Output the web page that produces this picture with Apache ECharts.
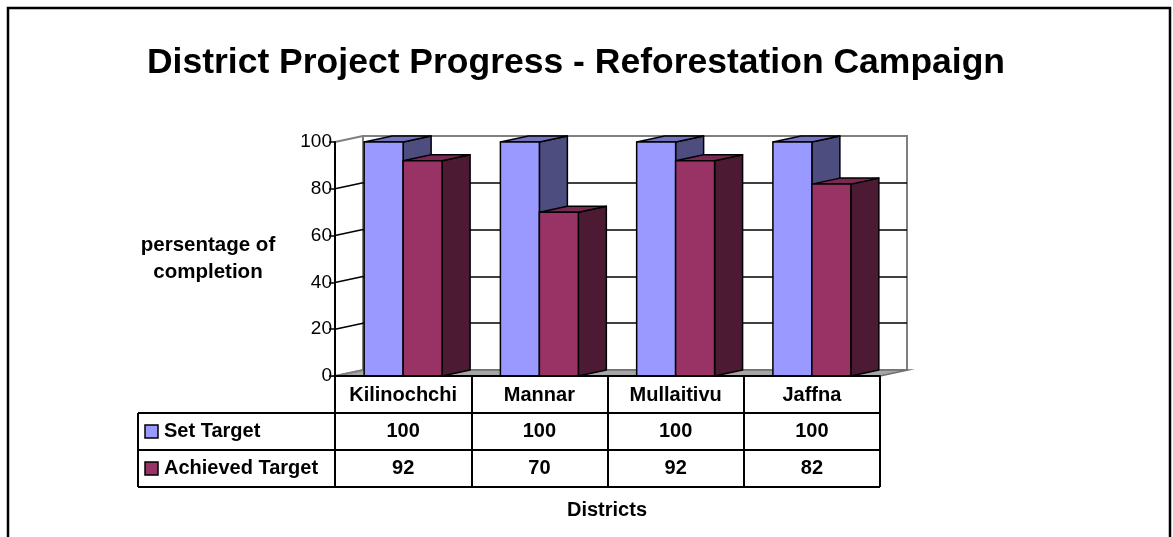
<!DOCTYPE html>
<html>
<head>
<meta charset="utf-8">
<title>District Project Progress</title>
<script src="https://cdn.jsdelivr.net/npm/echarts@6/dist/echarts.min.js"></script>
<style>
  html, body { margin: 0; padding: 0; background: #fff; }
  #chart { width: 1173px; height: 537px; }
</style>
</head>
<body>
<div id="chart"></div>
<script>
// data
const districts = ['Kilinochchi', 'Mannar', 'Mullaitivu', 'Jaffna'];
const seriesNames = ['Set Target', 'Achieved Target'];
const setTarget = [100, 100, 100, 100];
const achievedTarget = [92, 70, 92, 82];
const yTicks = [0, 20, 40, 60, 80, 100];

// layout / style
const FONT = 'Liberation Sans, Arial, sans-serif';
const DX = 28, DY = -6;            // 3d depth offset
const ROW_H = 37;                  // data table row height
const TABLE_TOP = 376;
const TABLE_LEFT = 138;
const colors = {
  set: { front: '#9999FF', top: '#7373BF', side: '#4D4D80' },
  ach: { front: '#993366', top: '#7A2952', side: '#4D1A33' }
};

const chart = echarts.init(document.getElementById('chart'));

function renderBars(params, api) {
  const i = api.value(0);
  const base = api.coord([i, 0]);
  const band = api.size([1, 0])[0];
  const w = band * 0.286;
  const styles = [colors.set, colors.ach];
  const children = [];
  [1, 2].forEach(function (dim, k) {
    const top = api.coord([i, api.value(dim)]);
    const x0 = base[0] - w + k * w, x1 = x0 + w;
    const y0 = base[1], y1 = top[1];
    const c = styles[k];
    const st = { stroke: '#000', lineWidth: 1.5, lineJoin: 'round' };
    children.push({
      type: 'polygon',
      shape: { points: [[x1, y1], [x1 + DX, y1 + DY], [x1 + DX, y0 + DY], [x1, y0]] },
      style: Object.assign({ fill: c.side }, st)
    });
    children.push({
      type: 'polygon',
      shape: { points: [[x0, y1], [x0 + DX, y1 + DY], [x1 + DX, y1 + DY], [x1, y1]] },
      style: Object.assign({ fill: c.top }, st)
    });
    children.push({
      type: 'rect',
      shape: { x: x0, y: y1, width: w, height: y0 - y1 },
      style: Object.assign({ fill: c.front }, st)
    });
  });
  return { type: 'group', children: children };
}

function renderWalls(params, api) {
  const cs = params.coordSys;
  const v = api.value(1);
  const p = api.coord([0, v]);
  const grey = v === yTicks[0] || v === yTicks[yTicks.length - 1];
  const children = [];
  if (v === yTicks[0]) {
    // floor slab
    children.push({
      type: 'polygon',
      shape: { points: [[cs.x, p[1]], [cs.x + DX, p[1] + DY], [cs.x + cs.width + DX, p[1] + DY], [cs.x + cs.width, p[1]]] },
      style: { fill: '#a6a6a6', stroke: '#707070', lineWidth: 1.5 }
    });
  }
  children.push({
    type: 'line',
    shape: { x1: cs.x, y1: p[1], x2: cs.x + DX, y2: p[1] + DY },
    style: { stroke: grey ? '#808080' : '#000', lineWidth: grey ? 2 : 1.5 }
  });
  return { type: 'group', children: children };
}

function renderTable(params, api) {
  const i = api.value(0);
  const x = api.coord([i, 0])[0];
  const rows = [api.value(1), api.value(2)];
  return {
    type: 'group',
    children: rows.map(function (val, r) {
      return {
        type: 'text',
        style: {
          text: String(val), x: x, y: TABLE_TOP + ROW_H * (r + 1.5),
          align: 'center', verticalAlign: 'middle',
          font: 'bold 20px ' + FONT, fill: '#000'
        }
      };
    })
  };
}

const rows = districts.map(function (d, i) { return [i, setTarget[i], achievedTarget[i]]; });
const tableRight = 880;
const graphics = [
  { type: 'rect', shape: { x: 8, y: 8, width: 1162, height: 600 },
    style: { fill: 'none', stroke: '#000', lineWidth: 2.5 }, z: 100 },
  { type: 'text', style: { text: 'District Project Progress - Reforestation Campaign', x: 576, y: 63,
    align: 'center', verticalAlign: 'middle', font: 'bold 35.5px ' + FONT, fill: '#000' } },
  { type: 'text', style: { text: 'persentage of\ncompletion', x: 208, y: 259, lineHeight: 27,
    align: 'center', verticalAlign: 'middle', font: 'bold 20.5px ' + FONT, fill: '#000' } },
  { type: 'text', style: { text: 'Districts', x: 607, y: 510,
    align: 'center', verticalAlign: 'middle', font: 'bold 20px ' + FONT, fill: '#000' } }
];
// table lines for the legend column
[1, 2, 3].forEach(function (r) {
  graphics.push({ type: 'line', shape: { x1: TABLE_LEFT, y1: TABLE_TOP + ROW_H * r, x2: tableRight, y2: TABLE_TOP + ROW_H * r },
    style: { stroke: '#000', lineWidth: 2 }, z: 50 });
});
graphics.push({ type: 'line', shape: { x1: TABLE_LEFT, y1: TABLE_TOP + ROW_H, x2: TABLE_LEFT, y2: TABLE_TOP + ROW_H * 3 },
  style: { stroke: '#000', lineWidth: 2 }, z: 50 });
seriesNames.forEach(function (name, r) {
  const cy = TABLE_TOP + ROW_H * (r + 1.5);
  graphics.push({ type: 'rect', shape: { x: 145, y: cy - 6.5, width: 13, height: 13 },
    style: { fill: r === 0 ? colors.set.front : colors.ach.front, stroke: '#000', lineWidth: 1.5 } });
  graphics.push({ type: 'text', style: { text: name, x: 164, y: cy, align: 'left', verticalAlign: 'middle',
    font: 'bold 20px ' + FONT, fill: '#000' } });
});

chart.setOption({
  backgroundColor: '#fff',
  animation: false,
  grid: [
    { left: 335, top: 142, width: 545, height: 234 },
    { left: 363, top: 136, width: 544, height: 234, show: true,
      borderColor: '#808080', borderWidth: 2, backgroundColor: 'transparent' }
  ],
  xAxis: [
    { type: 'category', gridIndex: 0, data: districts, z: 5,
      axisLine: { lineStyle: { color: '#000', width: 2 } },
      axisTick: { show: true, interval: 0, length: ROW_H * 3, lineStyle: { color: '#000', width: 2 } },
      axisLabel: { interval: 0, margin: 9, color: '#000', fontFamily: FONT, fontWeight: 'bold', fontSize: 20 } },
    { type: 'category', gridIndex: 1, data: districts, show: false }
  ],
  yAxis: [
    { type: 'value', gridIndex: 0, min: 0, max: 100, interval: 20, z: 5,
      axisLine: { show: true, lineStyle: { color: '#000', width: 2 } },
      axisTick: { show: true, length: 6, lineStyle: { color: '#000', width: 1.5 } },
      axisLabel: { margin: 3, color: '#000', fontFamily: FONT, fontSize: 19 },
      splitLine: { show: false } },
    { type: 'value', gridIndex: 1, min: 0, max: 100, interval: 20,
      axisLine: { show: false }, axisTick: { show: false }, axisLabel: { show: false },
      splitLine: { show: true, lineStyle: { color: ['#808080', '#000', '#000', '#000', '#000', '#808080'], width: 1.5 } } }
  ],
  series: [
    { type: 'custom', name: 'walls', xAxisIndex: 0, yAxisIndex: 0, z: 2,
      data: yTicks.map(function (v) { return [0, v]; }), renderItem: renderWalls },
    { type: 'custom', name: 'bars', xAxisIndex: 0, yAxisIndex: 0, z: 3,
      data: rows, renderItem: renderBars },
    { type: 'custom', name: 'table', xAxisIndex: 0, yAxisIndex: 0, z: 4,
      data: rows, renderItem: renderTable }
  ],
  graphic: graphics
});
</script>
</body>
</html>
